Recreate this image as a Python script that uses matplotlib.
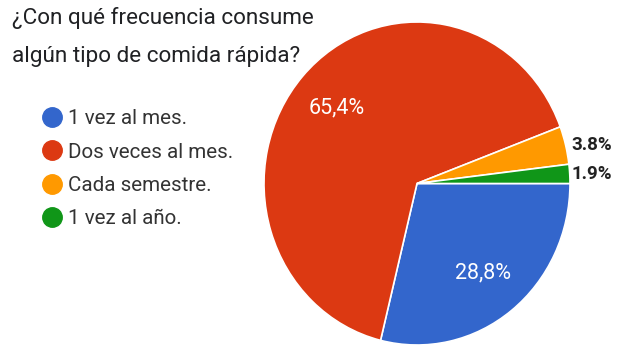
import numpy as np
import matplotlib
matplotlib.use("Agg")
import matplotlib.pyplot as plt
from matplotlib.lines import Line2D

TITLE = "¿Con qué frecuencia consume\nalgún tipo de comida rápida?"
CATEGORIES = ["1 vez al mes.", "Dos veces al mes.", "Cada semestre.", "1 vez al año."]
SHARES = [28.8, 65.4, 3.8, 1.9]
PCT_LABELS = ["28,8%", "65,4%", "3.8%", "1.9%"]
COLORS = ["#3366cc", "#dc3912", "#ff9900", "#109618"]

plt.rcParams["font.family"] = ["Roboto", "DejaVu Sans"]

W, H = 623, 351
fig = plt.figure(figsize=(W / 100, H / 100), dpi=100)

# pie box in pixels (slightly taller than wide, like the screenshot)
x0, x1, ytop, ybot = 264, 570, 22, 345
ax = fig.add_axes([x0 / W, 1 - ybot / H, (x1 - x0) / W, (ybot - ytop) / H])
wedges, _ = ax.pie(SHARES, colors=COLORS, startangle=0, counterclock=False,
                   wedgeprops=dict(edgecolor="white", linewidth=1.2))
ax.set_aspect("auto")
ax.set_xlim(-1, 1); ax.set_ylim(-1, 1)

for w, lab in zip(wedges, PCT_LABELS):
    mid = np.deg2rad((w.theta1 + w.theta2) / 2)
    share = (w.theta2 - w.theta1) / 360
    if share > 0.1:
        ax.text(0.70 * np.cos(mid), 0.70 * np.sin(mid), lab, color="white",
                fontsize=15.5, ha="center", va="center")
    else:
        ax.text(1.01, np.sin(mid), lab, color="#222222", fontsize=13.5,
                fontweight="bold", ha="left", va="center")

fig.text(12 / W, 1 - 7 / H, TITLE, fontsize=16.2, color="#202124",
         ha="left", va="top", linespacing=2.05)

handles = [Line2D([], [], ls="none", marker="o", markersize=14,
                  markerfacecolor=c, markeredgecolor=c) for c in COLORS]
fig.legend(handles, CATEGORIES, loc="upper left", bbox_to_anchor=(37 / W, 1 - 101 / H),
           frameon=False, fontsize=14.8, labelcolor="#333333", handlelength=0.7,
           handletextpad=0.4, labelspacing=0.7, borderaxespad=0)

fig.savefig("out.png", dpi=100, facecolor="white")
